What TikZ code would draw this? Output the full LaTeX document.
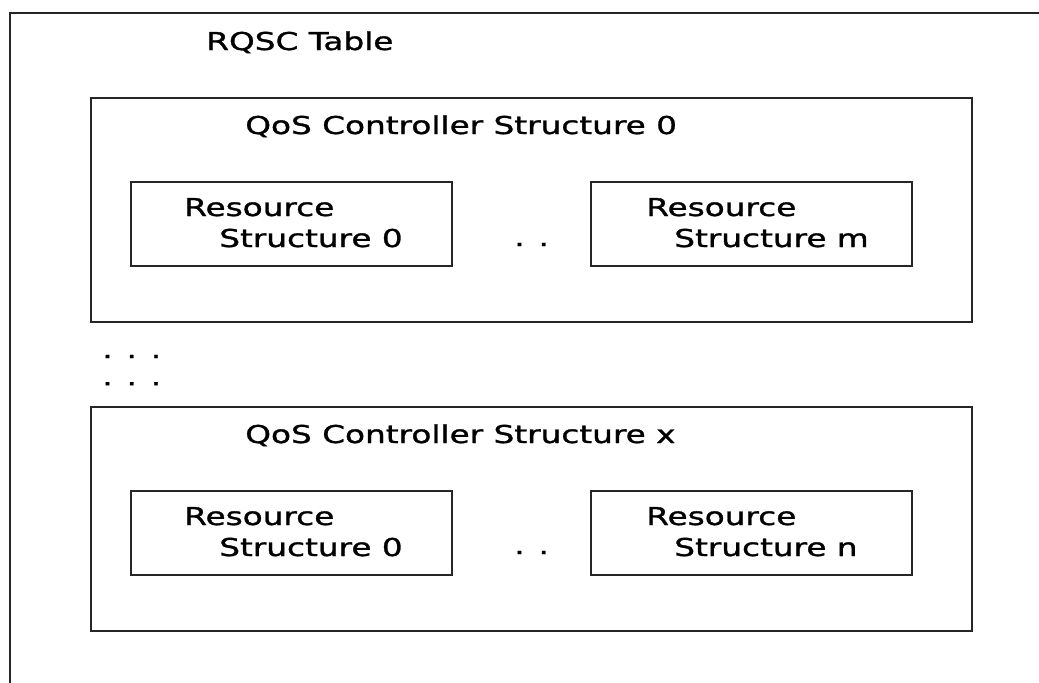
\documentclass[tikz,border=0pt]{standalone}
\usepackage{fontspec}
\setmainfont{DejaVu Sans}[FakeStretch=1.33, FakeBold=1.2]
\usetikzlibrary{positioning}

\tikzset{
	frame/.style={draw=black!85, line width=1.1pt},
	lbl/.style={anchor=base west, inner sep=0pt, font=\fontsize{17.5}{21}\selectfont},
}

%one QoS controller box with its title, #1 = name, #2 = north west corner, #3 = title
\newcommand{\qosbox}[3]{
	\node[frame, anchor=north west, minimum width=22.025cm, minimum height=5.6cm] (#1) at #2 {};
	\node[lbl, xshift=3.875cm, yshift=-0.925cm] (#1-title) at (#1.north west) {#3};
}

%one resource box, #1 = name, #2 = north west corner, #3 = second line, #4 = indent of first line, #5 = indent of second line
\newcommand{\resbox}[5]{
	\node[frame, anchor=north west, minimum width=8.025cm, minimum height=2.1cm] (#1) at #2 {};
	\node[lbl, xshift=#4, yshift=-0.875cm] (#1-l1) at (#1.north west) {Resource};
	\node[lbl, xshift=#5, yshift=-1.65cm] (#1-l2) at (#1.north west) {#3};
}

\begin{document}
\begin{tikzpicture}
	\useasboundingbox (0,0) rectangle (25.975,-17.05);
	\clip (0,0) rectangle (25.975,-17.05);

	%the table runs off the page on the right and at the bottom
	\draw[frame] (0.25,-17.5) |- (26.5,-0.325);
	\node[lbl] (table) at (5.15,-1.25) {RQSC Table};

	%first controller
	\qosbox{qos0}{(2.25,-2.425)}{QoS Controller Structure 0}
	\resbox{res00}{(3.25,-4.525)}{Structure 0}{1.35cm}{2.225cm}
	\resbox{res0m}{(14.75,-4.525)}{Structure m}{1.4cm}{2.1cm}
	\node[lbl] (gap0) at (12.85,-6.15) {. .};

	%controllers in between
	\node[lbl] (skip1) at (2.55,-8.95) {. . .};
	\node[lbl] (skip2) at (2.55,-9.63) {. . .};

	%last controller
	\qosbox{qosx}{(2.25,-10.15)}{QoS Controller Structure x}
	\resbox{resx0}{(3.25,-12.25)}{Structure 0}{1.35cm}{2.225cm}
	\resbox{resxn}{(14.75,-12.25)}{Structure n}{1.4cm}{2.1cm}
	\node[lbl] (gapx) at (12.85,-13.85) {. .};
\end{tikzpicture}
\end{document}
